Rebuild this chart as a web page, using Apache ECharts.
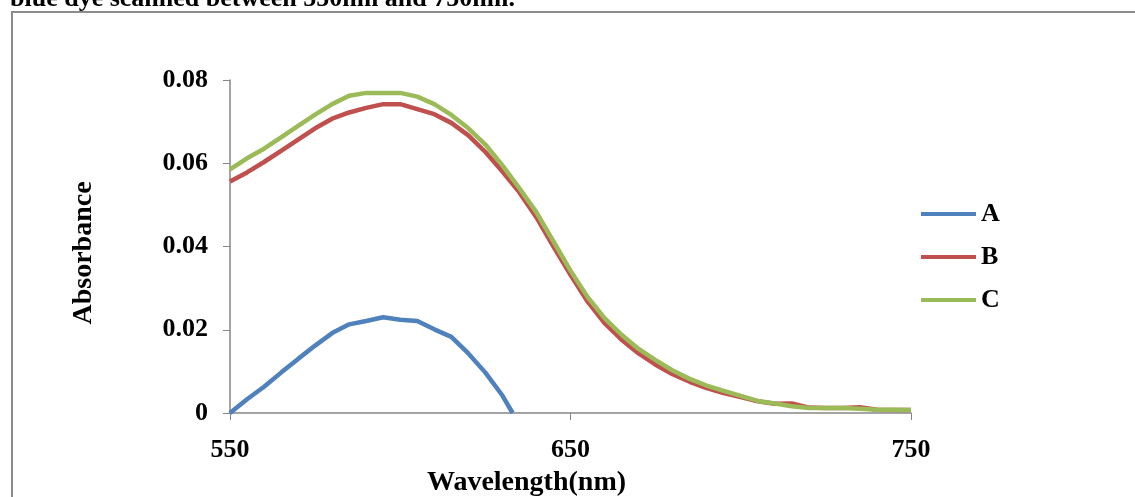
<!DOCTYPE html>
<html>
<head>
<meta charset="utf-8">
<script src="https://cdn.jsdelivr.net/npm/echarts@6/dist/echarts.min.js"></script>
<style>
  html, body { margin: 0; padding: 0; background: #fff; }
  #chart { width: 1135px; height: 497px; }
</style>
</head>
<body>
<div id="chart"></div>
<script>
// wavelengths (nm) and absorbance
var waveA = [550, 555, 560, 565, 570, 575, 580, 585, 590, 595, 600, 605, 610, 615, 620, 625, 630, 633];
var absA = [0, 0.0033, 0.0063, 0.0097, 0.0130, 0.0162, 0.0192, 0.0213, 0.0221, 0.0230, 0.0224, 0.0221, 0.0201, 0.0183, 0.0143, 0.0097, 0.0042, 0];

var waveBC = [550, 555, 560, 565, 570, 575, 580, 585, 590, 595, 600, 605, 610, 615, 620, 625, 630, 635, 640, 645,
  650, 655, 660, 665, 670, 675, 680, 685, 690, 695, 700, 705, 710, 715, 720, 725, 730, 735, 740, 745, 750];
var absB = [0.0556, 0.0578, 0.0603, 0.0630, 0.0657, 0.0684, 0.0707, 0.0722, 0.0733, 0.0742, 0.0742, 0.0730, 0.0718, 0.0697, 0.0667, 0.0627, 0.0580, 0.0530, 0.0470, 0.0400,
  0.0332, 0.0268, 0.0216, 0.0176, 0.0143, 0.0116, 0.0093, 0.0075, 0.0060, 0.0048, 0.0038, 0.0028, 0.0022, 0.0023, 0.0013, 0.0012, 0.0012, 0.0014, 0.0008, 0.0007, 0.0007];
var absC = [0.0585, 0.0612, 0.0635, 0.0662, 0.0690, 0.0717, 0.0742, 0.0762, 0.0769, 0.0769, 0.0769, 0.0760, 0.0742, 0.0716, 0.0684, 0.0645, 0.0595, 0.0540, 0.0482, 0.0412,
  0.0342, 0.0279, 0.0228, 0.0188, 0.0154, 0.0127, 0.0102, 0.0082, 0.0066, 0.0053, 0.0041, 0.0029, 0.0023, 0.0016, 0.0012, 0.0012, 0.0012, 0.0010, 0.0008, 0.0008, 0.0007];

var seriesNames = ['A', 'B', 'C'];
var seriesColors = ['#4F81BD', '#C0504D', '#9BBB59'];

function pairs(xs, ys) {
  var out = [];
  for (var i = 0; i < xs.length; i++) out.push([xs[i], ys[i]]);
  return out;
}

var serif = '"Liberation Serif", "DejaVu Serif", serif';
var chart = echarts.init(document.getElementById('chart'));

var option = {
  animation: false,
  backgroundColor: '#fff',
  graphic: [
    {
      type: 'rect',
      shape: { x: 12, y: 12, width: 1200, height: 600 },
      style: { fill: 'none', stroke: '#8c8c8c', lineWidth: 2 }
    },
    {
      type: 'text',
      x: 10, y: 12,
      style: {
        text: 'blue dye scanned between 550nm and 750nm.',
        font: 'bold 26px ' + serif,
        fill: '#000',
        verticalAlign: 'bottom'
      }
    }
  ],
  legend: {
    orient: 'vertical',
    left: 916,
    top: 196,
    itemWidth: 55,
    itemHeight: 4,
    itemGap: 17,
    icon: 'rect',
    textStyle: { fontFamily: serif, fontWeight: 'bold', fontSize: 26, color: '#000' },
    data: seriesNames
  },
  grid: { left: 230, right: 224, top: 80, bottom: 84, outerBoundsMode: 'none' },
  xAxis: {
    type: 'value',
    min: 550, max: 750, interval: 100,
    name: 'Wavelength(nm)',
    nameLocation: 'middle',
    nameGap: 56,
    nameTextStyle: { fontFamily: serif, fontWeight: 'bold', fontSize: 28, color: '#000', padding: [0, 88, 0, 0] },
    axisLine: { lineStyle: { color: '#868686', width: 1.5 } },
    axisTick: { show: true, length: 7, lineStyle: { color: '#868686' } },
    axisLabel: { margin: 24, fontFamily: serif, fontWeight: 'bold', fontSize: 26, color: '#000' },
    splitLine: { show: false }
  },
  yAxis: {
    type: 'value',
    min: 0, max: 0.08, interval: 0.02,
    name: 'Absorbance',
    nameLocation: 'middle',
    nameGap: 132,
    nameTextStyle: { fontFamily: serif, fontWeight: 'bold', fontSize: 28, color: '#000', padding: [0, 13, 0, 0] },
    axisLine: { show: true, lineStyle: { color: '#868686', width: 1.5 } },
    axisTick: { show: true, length: 7, lineStyle: { color: '#868686' } },
    axisLabel: { margin: 22, fontFamily: serif, fontWeight: 'bold', fontSize: 26, color: '#000' },
    splitLine: { show: false }
  },
  series: [
    { name: seriesNames[0], type: 'line', data: pairs(waveA, absA) },
    { name: seriesNames[1], type: 'line', data: pairs(waveBC, absB) },
    { name: seriesNames[2], type: 'line', data: pairs(waveBC, absC) }
  ].map(function (s, i) {
    s.showSymbol = false;
    s.symbol = 'none';
    s.color = seriesColors[i];
    s.lineStyle = { width: 4.5, color: seriesColors[i] };
    return s;
  })
};

chart.setOption(option);
</script>
</body>
</html>
